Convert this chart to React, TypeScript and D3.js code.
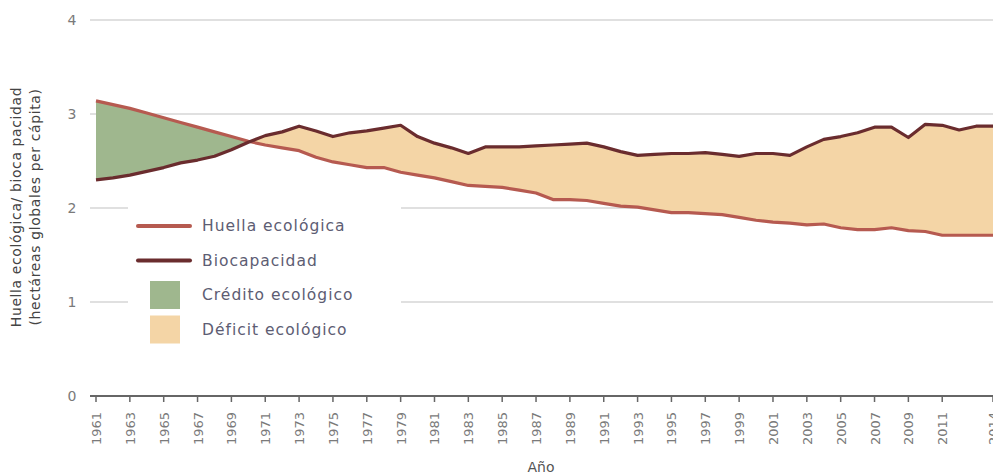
import React from 'react';
import * as d3 from 'd3';

const years = d3.range(1961, 2015);
const huella = [
  3.14, 3.1, 3.06, 3.01, 2.96, 2.91, 2.86, 2.81, 2.76, 2.71,
  2.67, 2.64, 2.61, 2.54, 2.49, 2.46, 2.43, 2.43, 2.38, 2.35,
  2.32, 2.28, 2.24, 2.23, 2.22, 2.19, 2.16, 2.09, 2.09, 2.08,
  2.05, 2.02, 2.01, 1.98, 1.95, 1.95, 1.94, 1.93, 1.9, 1.87,
  1.85, 1.84, 1.82, 1.83, 1.79, 1.77, 1.77, 1.79, 1.76, 1.75,
  1.71, 1.71, 1.71, 1.71,
];
const biocapacidad = [
  2.3, 2.32, 2.35, 2.39, 2.43, 2.48, 2.51, 2.55, 2.62, 2.7,
  2.77, 2.81, 2.87, 2.82, 2.76, 2.8, 2.82, 2.85, 2.88, 2.76,
  2.69, 2.64, 2.58, 2.65, 2.65, 2.65, 2.66, 2.67, 2.68, 2.69,
  2.65, 2.6, 2.56, 2.57, 2.58, 2.58, 2.59, 2.57, 2.55, 2.58,
  2.58, 2.56, 2.65, 2.73, 2.76, 2.8, 2.86, 2.86, 2.75, 2.89,
  2.88, 2.83, 2.87, 2.87,
];
const xTicks = [...d3.range(1961, 2012, 2), 2014];
const yTicks = [0, 1, 2, 3, 4];
const legendItems = [
  { label: 'Huella ecológica', kind: 'line', color: '#b65a50' },
  { label: 'Biocapacidad', kind: 'line', color: '#6a2c2e' },
  { label: 'Crédito ecológico', kind: 'box', color: '#9fb78e' },
  { label: 'Déficit ecológico', kind: 'box', color: '#f4d5a6' },
];

const W = 993;
const H = 474;
const FONT = 'DejaVu Sans, sans-serif';

export default function App() {
  const x = d3.scaleLinear().domain([1961, 2014]).range([96, 993]);
  const y = d3.scaleLinear().domain([0, 4]).range([396, 20]);
  const rows = years.map((yr, i) => ({ yr, h: huella[i], b: biocapacidad[i] }));

  // area between a series and the top / bottom, used for fills and clips
  const toTop = (key: 'h' | 'b') =>
    d3.area<any>().x(d => x(d.yr)).y0(d => y(d[key])).y1(y(4))(rows) as string;
  const toBottom = (key: 'h' | 'b') =>
    d3.area<any>().x(d => x(d.yr)).y0(d => y(d[key])).y1(y(0))(rows) as string;
  const line = (key: 'h' | 'b') =>
    d3.line<any>().x(d => x(d.yr)).y(d => y(d[key]))(rows) as string;

  return (
    <svg width={W} height={H} style={{ position: 'absolute', left: 0, top: 0, background: '#fff' }}>
      <defs>
        <clipPath id="belowH"><path d={toBottom('h')} /></clipPath>
        <clipPath id="belowB"><path d={toBottom('b')} /></clipPath>
      </defs>

      {/* grid */}
      {yTicks.filter(t => t > 0).map(t => (
        <line key={t} x1={90} x2={W} y1={y(t)} y2={y(t)} stroke="#d6d6d6" strokeWidth={1.5} />
      ))}
      {yTicks.map(t => (
        <text key={t} x={72} y={y(t) + 5} textAnchor="middle" fontSize={14} fill="#7a7a7a" fontFamily={FONT}>{t}</text>
      ))}

      {/* fills */}
      <path d={toTop('b')} fill="#9fb78e" clipPath="url(#belowH)" />
      <path d={toTop('h')} fill="#f4d5a6" clipPath="url(#belowB)" />

      {/* lines */}
      <path d={line('h')} fill="none" stroke="#b65a50" strokeWidth={3.2} strokeLinejoin="round" />
      <path d={line('b')} fill="none" stroke="#6a2c2e" strokeWidth={3.2} strokeLinejoin="round" />

      {/* x axis */}
      <line x1={90} x2={W} y1={396} y2={396} stroke="#666" strokeWidth={2} />
      {xTicks.map(t => (
        <g key={t}>
          <line x1={x(t)} x2={x(t)} y1={396} y2={402} stroke="#666" strokeWidth={1.5} />
          <text transform={`translate(${x(t) + 5},${412}) rotate(-90)`} textAnchor="end" fontSize={13} fill="#7a7a7a" fontFamily={FONT}>{t}</text>
        </g>
      ))}
      <text x={541} y={472} textAnchor="middle" fontSize={14} fill="#555" fontFamily={FONT}>Año</text>

      {/* y title */}
      <text transform="translate(21,207) rotate(-90)" textAnchor="middle" fontSize={14} letterSpacing={0.6} fill="#444" fontFamily={FONT}>Huella ecológica/ bioca pacidad</text>
      <text transform="translate(40,207) rotate(-90)" textAnchor="middle" fontSize={14} letterSpacing={0.6} fill="#444" fontFamily={FONT}>(hectáreas globales per cápita)</text>

      {/* legend */}
      <rect x={128} y={200} width={273} height={160} fill="#fff" />
      {legendItems.map((it, i) => {
        const cy = 226 + i * 34.5;
        return (
          <g key={it.label}>
            {it.kind === 'line'
              ? <line x1={138} x2={190} y1={cy} y2={cy} stroke={it.color} strokeWidth={4} strokeLinecap="round" />
              : <rect x={150} y={cy - 14} width={30} height={28} fill={it.color} />}
            <text x={202} y={cy + 5} fontSize={15.5} letterSpacing={1} fill="#5d5d73" fontFamily={FONT}>{it.label}</text>
          </g>
        );
      })}
    </svg>
  );
}
